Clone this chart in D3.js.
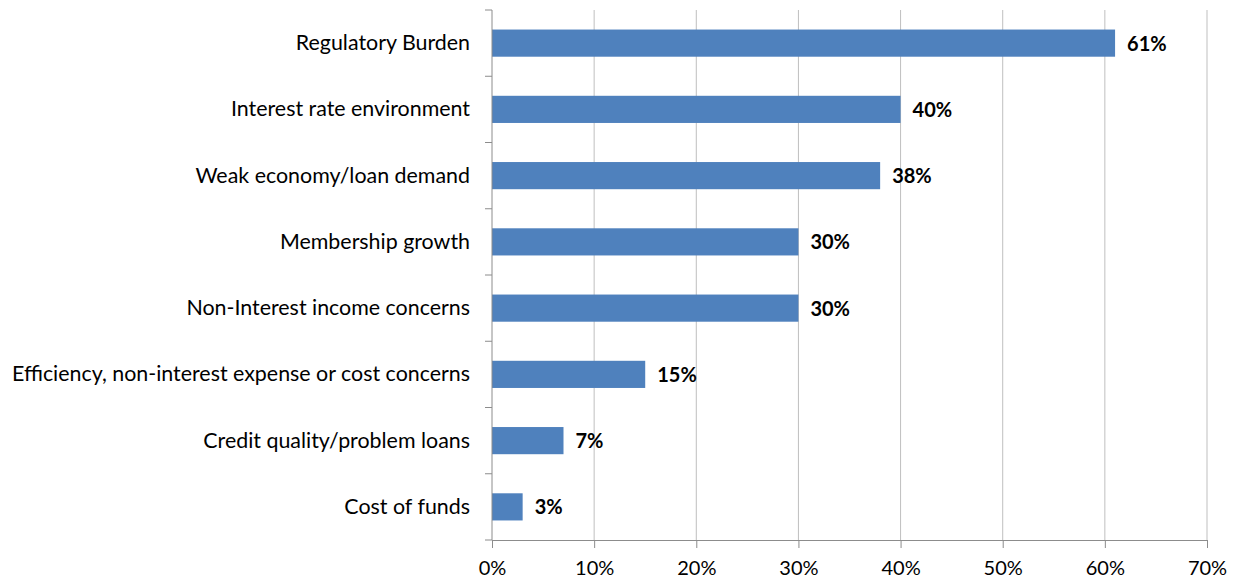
<!DOCTYPE html>
<html>
<head>
<meta charset="utf-8">
<script src="https://cdn.jsdelivr.net/npm/d3@7"></script>
<style>
  body { margin: 0; background: #fff; }
  svg { display: block; font-family: Lato, "Open Sans", sans-serif; }
</style>
</head>
<body>
<svg id="chart" width="1236" height="580"></svg>
<script>
// data
var categories = [
  "Regulatory Burden",
  "Interest rate environment",
  "Weak economy/loan demand",
  "Membership growth",
  "Non-Interest income concerns",
  "Efficiency, non-interest expense or cost concerns",
  "Credit quality/problem loans",
  "Cost of funds"
];
var values = [61, 40, 38, 30, 30, 15, 7, 3];
var tickValues = [0, 10, 20, 30, 40, 50, 60, 70];

var margin = { top: 10, right: 29, bottom: 40, left: 492 };
var width = 1236 - margin.left - margin.right;
var height = 580 - margin.top - margin.bottom;
var fontSize = 20;

var svg = d3.select("#chart");
var g = svg.append("g").attr("transform", "translate(" + margin.left + "," + margin.top + ")");

var x = d3.scaleLinear().domain([0, 70]).range([0, width]);
var y = d3.scaleBand().domain(categories).range([0, height]).paddingInner(0.59).paddingOuter(0.295);

// vertical gridlines
g.selectAll("line.grid")
  .data(tickValues.slice(1))
  .enter().append("line")
  .attr("class", "grid")
  .attr("x1", function(d) { return x(d); })
  .attr("x2", function(d) { return x(d); })
  .attr("y1", 0)
  .attr("y2", height)
  .attr("stroke", "#bfbfbf")
  .attr("stroke-width", 1);

// bars
g.selectAll("rect.bar")
  .data(values)
  .enter().append("rect")
  .attr("class", "bar")
  .attr("x", 0)
  .attr("y", function(d, i) { return y(categories[i]); })
  .attr("width", function(d) { return x(d); })
  .attr("height", y.bandwidth())
  .attr("fill", "#4f81bd");

// value labels
g.selectAll("text.val")
  .data(values)
  .enter().append("text")
  .attr("class", "val")
  .attr("x", function(d) { return x(d) + 12; })
  .attr("y", function(d, i) { return y(categories[i]) + y.bandwidth() / 2; })
  .attr("dy", "0.38em")
  .attr("font-size", fontSize)
  .attr("font-weight", "bold")
  .attr("fill", "#000")
  .text(function(d) { return d + "%"; });

// x axis
var xAxis = g.append("g")
  .attr("transform", "translate(0," + height + ")")
  .call(d3.axisBottom(x).tickValues(tickValues).tickFormat(function(d) { return d + "%"; }).tickSizeOuter(0).tickSize(8).tickPadding(13));
xAxis.select(".domain").attr("stroke", "#8c8c8c");
xAxis.selectAll(".tick line").attr("stroke", "#8c8c8c");
xAxis.selectAll("text").attr("font-size", fontSize).attr("fill", "#000").attr("font-family", "Lato, 'Open Sans', sans-serif");

// y axis: ticks sit between the categories
var yAxis = g.append("g");
yAxis.append("line")
  .attr("x1", 0).attr("x2", 0).attr("y1", 0).attr("y2", height)
  .attr("stroke", "#8c8c8c");
var bounds = d3.range(categories.length + 1).map(function(i) { return i * height / categories.length; });
yAxis.selectAll("line.tk")
  .data(bounds)
  .enter().append("line")
  .attr("class", "tk")
  .attr("x1", -7).attr("x2", 0)
  .attr("y1", function(d) { return d; })
  .attr("y2", function(d) { return d; })
  .attr("stroke", "#8c8c8c");
yAxis.selectAll("text")
  .data(categories)
  .enter().append("text")
  .attr("x", -22)
  .attr("y", function(d) { return y(d) + y.bandwidth() / 2; })
  .attr("dy", "0.33em")
  .attr("text-anchor", "end")
  .attr("font-size", 21.4)
  .attr("fill", "#000")
  .text(function(d) { return d; });
</script>
</body>
</html>
